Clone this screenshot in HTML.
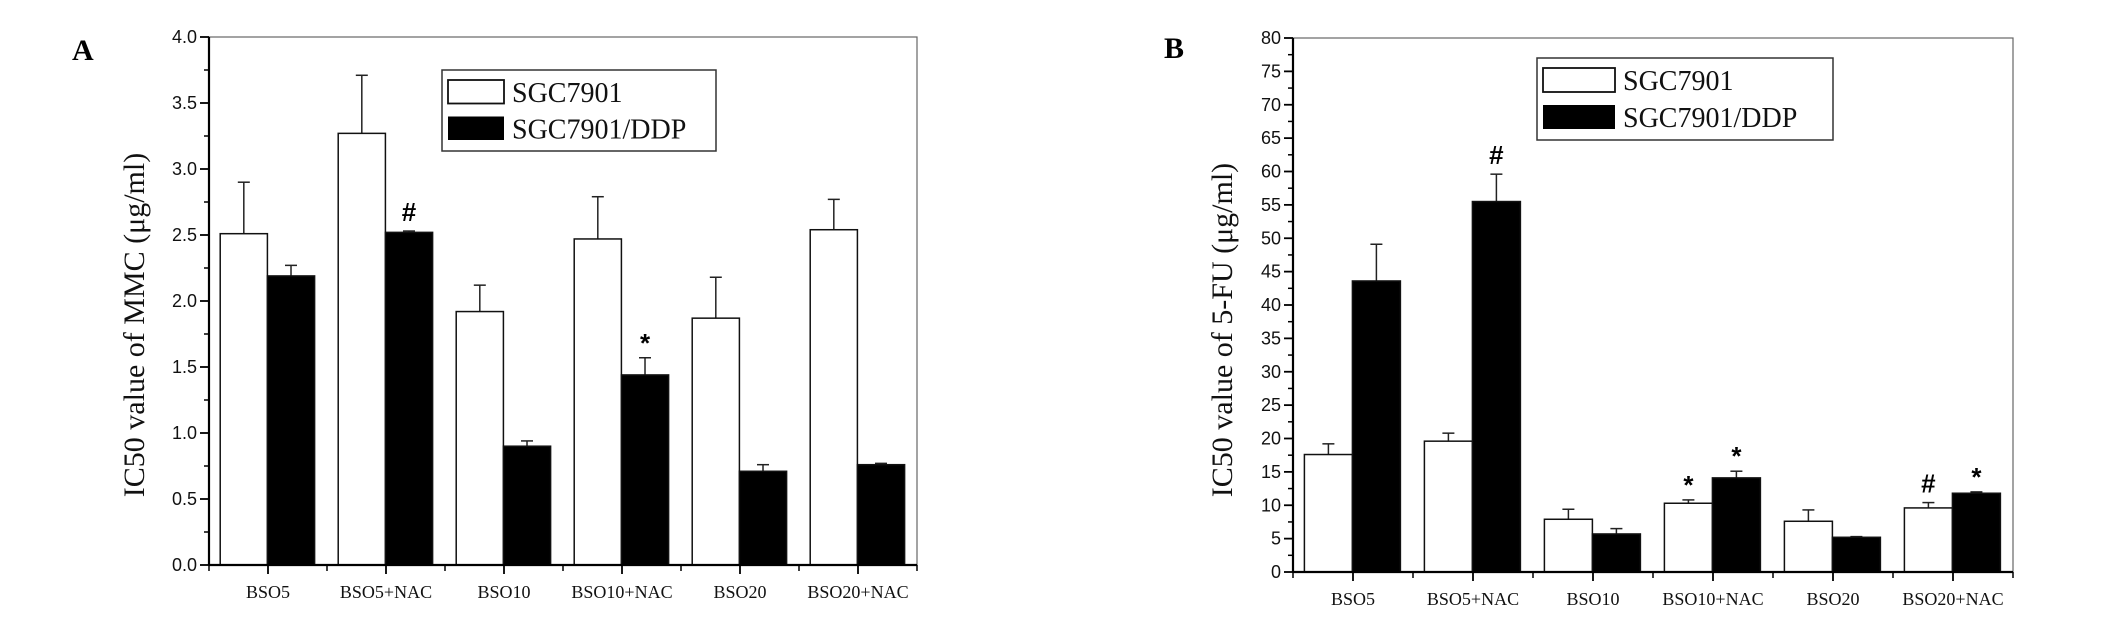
<!DOCTYPE html>
<html><head><meta charset="utf-8"><style>
body{margin:0;background:#fff;}
svg{display:block;}
.tk{font-family:"Liberation Sans",sans-serif;font-size:18px;fill:#111;}
.cat{font-family:"Liberation Serif",serif;font-size:18px;fill:#111;}
.lg{font-family:"Liberation Serif",serif;font-size:28px;fill:#111;}
.yt{font-family:"Liberation Serif",serif;font-size:30px;fill:#111;}
.pl{font-family:"Liberation Serif",serif;font-size:30px;font-weight:bold;fill:#000;}
.an{font-family:"Liberation Sans",sans-serif;font-size:26px;font-weight:bold;fill:#000;}
</style></head><body>
<svg id="fig" width="2126" height="621" viewBox="0 0 2126 621">
<text class="pl" x="72" y="60">A</text>
<text class="pl" x="1164" y="58">B</text>
<text class="yt" transform="translate(144,325) rotate(-90)" text-anchor="middle">IC50 value of MMC (μg/ml)</text>
<text class="yt" transform="translate(1232,330) rotate(-90)" text-anchor="middle">IC50 value of 5-FU (μg/ml)</text>
</svg>
<script>
const categories=["BSO5","BSO5+NAC","BSO10","BSO10+NAC","BSO20","BSO20+NAC"];
const aWhite=[2.51,3.27,1.92,2.47,1.87,2.54];
const aWhiteErr=[2.90,3.71,2.12,2.79,2.18,2.77];
const aBlack=[2.19,2.52,0.90,1.44,0.71,0.76];
const aBlackErr=[2.27,2.53,0.94,1.57,0.76,0.77];
const aTicks=["0.0","0.5","1.0","1.5","2.0","2.5","3.0","3.5","4.0"];
const aAnnot=[[1,1,"#"],[3,1,"*"]];
const bWhite=[17.6,19.6,7.9,10.3,7.6,9.6];
const bWhiteErr=[19.2,20.8,9.4,10.8,9.3,10.4];
const bBlack=[43.6,55.5,5.7,14.1,5.2,11.8];
const bBlackErr=[49.1,59.6,6.5,15.1,5.3,12.0];
const bTicks=["0","5","10","15","20","25","30","35","40","45","50","55","60","65","70","75","80"];
const bAnnot=[[1,1,"#"],[3,0,"*"],[3,1,"*"],[5,0,"#"],[5,1,"*"]];

const NS="http://www.w3.org/2000/svg";
const svg=document.getElementById('fig');
function mk(t,a,txt){const e=document.createElementNS(NS,t);for(const k in a)e.setAttribute(k,a[k]);if(txt!==undefined)e.textContent=txt;svg.appendChild(e);return e;}

function panel(p,cfg){
  const {x0,x1,y0,y1,max,step,ticks,white,whiteErr,black,blackErr,annot,leg}=cfg;
  const ys=v=>y0-(v/max)*(y0-y1);
  const pitch=(x1-x0)/categories.length;
  const xs=i=>x0+i*pitch;
  const bw=pitch*0.4, off=pitch*0.095;
  let e;
  e=mk('rect',{x:x0,y:y1,width:x1-x0,height:y0-y1,fill:'none',stroke:'#666','stroke-width':1.2});
  
  
  for(let i=0;i<categories.length;i++){
    const xw=xs(i)+off, xb=xw+bw;
    [[white,whiteErr,xw,'#fff','white'],[black,blackErr,xb,'#000','black']].forEach(([v,er,x,f,n])=>{
      const top=ys(v[i]), et=ys(er[i]), cx=x+bw/2;
      e=mk('line',{x1:cx,y1:top,x2:cx,y2:et,stroke:'#222','stroke-width':1.5});
      
      
      e=mk('line',{x1:cx-6,y1:et,x2:cx+6,y2:et,stroke:'#222','stroke-width':1.5});
      
      
      e=mk('rect',{x:x,y:top,width:bw,height:y0-top,fill:f,stroke:'#111','stroke-width':1.5});
      
      
    });
  }
  annot.forEach(([i,s,t])=>{
    const er=s?blackErr:whiteErr;
    const cx=xs(i)+off+bw*s+bw/2;
    e=mk('text',{x:cx,y:ys(er[i])-(t==='*'?6:10),'text-anchor':'middle',class:'an'},t);
    
    
  });
  e=mk('line',{x1:x0,y1:y1,x2:x0,y2:y0,stroke:'#000','stroke-width':2.2});
  
  
  e=mk('line',{x1:x0,y1:y0,x2:x1,y2:y0,stroke:'#000','stroke-width':2.2});
  
  
  ticks.forEach((t,k)=>{
    const y=ys(k*step);
    e=mk('line',{x1:x0-9,y1:y,x2:x0,y2:y,stroke:'#000','stroke-width':1.8});
    
    
    if(k<ticks.length-1){
      const ym=ys((k+0.5)*step);
      e=mk('line',{x1:x0-5,y1:ym,x2:x0,y2:ym,stroke:'#000','stroke-width':1.5});
      
      
    }
    e=mk('text',{x:x0-12,y:y+6,'text-anchor':'end',class:'tk'},t);
    
    
  });
  for(let i=0;i<=categories.length;i++){
    e=mk('line',{x1:xs(i),y1:y0,x2:xs(i),y2:y0+6,stroke:'#000','stroke-width':1.5});
    
    
  }
  categories.forEach((c,i)=>{
    const cx=xs(i)+pitch/2;
    e=mk('line',{x1:cx,y1:y0,x2:cx,y2:y0+9,stroke:'#000','stroke-width':1.8});
    
    
    e=mk('text',{x:cx,y:y0+33,'text-anchor':'middle',class:'cat'},c);
    
    
  });
  const L=leg;
  e=mk('rect',{x:L.x,y:L.y,width:L.w,height:L.h,fill:'#fff',stroke:'#333','stroke-width':1.5});
  
  
  const sh=(L.h-26)/2-4;
  e=mk('rect',{x:L.x+6,y:L.y+10,width:L.sw,height:sh,fill:'#fff',stroke:'#111','stroke-width':1.8});
  
  
  e=mk('rect',{x:L.x+6,y:L.y+L.h/2+6,width:L.sw,height:sh,fill:'#000'});
  
  
  e=mk('text',{x:L.x+L.sw+14,y:L.y+10+sh/2+10,class:'lg'},'SGC7901');
  
  
  e=mk('text',{x:L.x+L.sw+14,y:L.y+L.h/2+6+sh/2+10,class:'lg'},'SGC7901/DDP');
  
  
}
panel('a',{x0:209,x1:917,y0:565,y1:37,max:4,step:0.5,ticks:aTicks,white:aWhite,whiteErr:aWhiteErr,black:aBlack,blackErr:aBlackErr,annot:aAnnot,leg:{x:442,y:70,w:274,h:81,sw:56}});
panel('b',{x0:1293,x1:2013,y0:572,y1:38,max:80,step:5,ticks:bTicks,white:bWhite,whiteErr:bWhiteErr,black:bBlack,blackErr:bBlackErr,annot:bAnnot,leg:{x:1537,y:58,w:296,h:82,sw:72}});
</script>
</body></html>
